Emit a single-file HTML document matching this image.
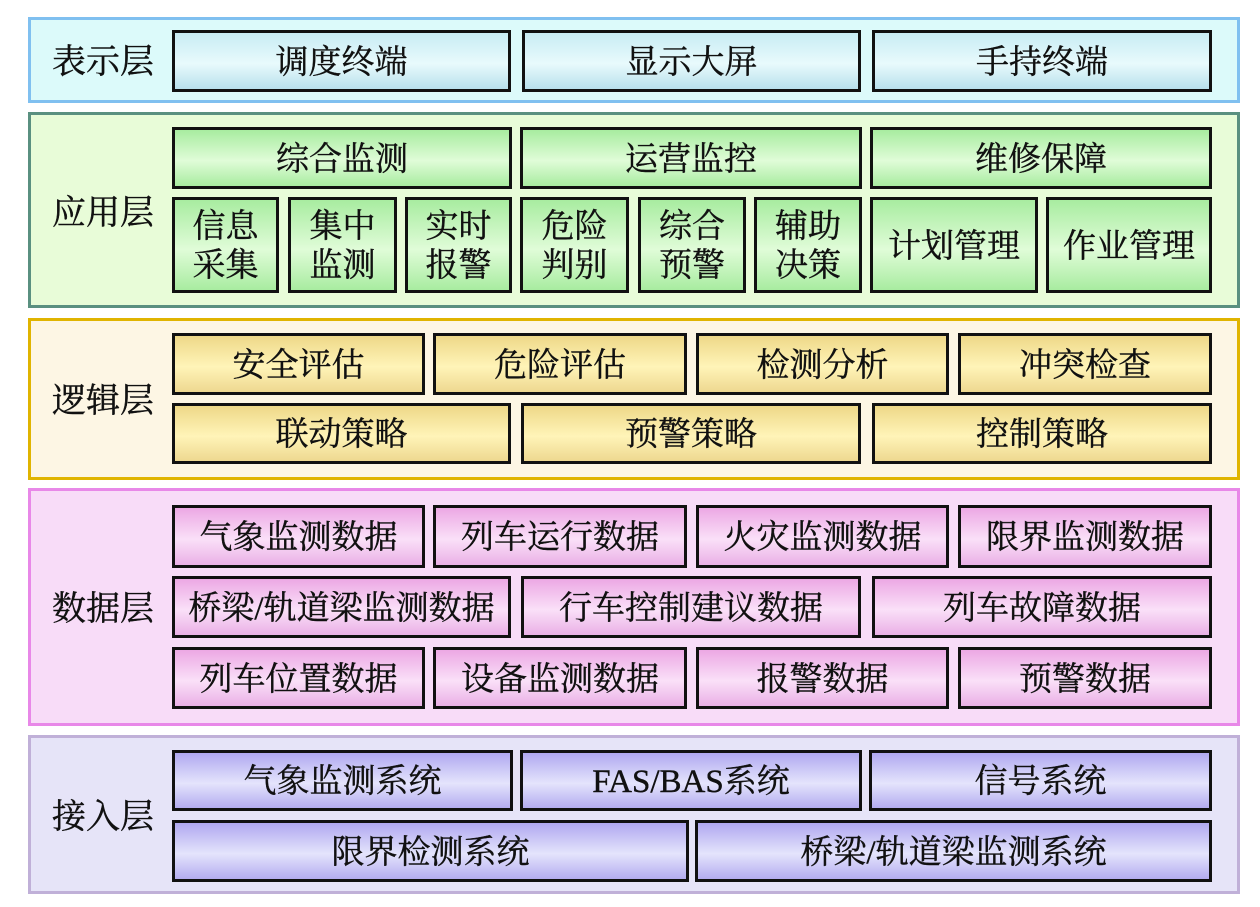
<!DOCTYPE html>
<html><head><meta charset="utf-8"><style>
body{margin:0;width:1260px;height:907px;background:#fff;position:relative;overflow:hidden;font-family:"Liberation Serif","Noto Serif CJK SC",serif;}
.L{position:absolute;left:28px;width:1212px;box-sizing:border-box;border:3px solid}
.t{position:absolute;left:52px;font-size:34px;color:#111;line-height:1;-webkit-text-stroke:0.4px #111}
.b{position:absolute;box-sizing:border-box;border:3px solid #111;padding-top:4px;display:flex;align-items:center;justify-content:center;text-align:center;font-size:33px;line-height:1.18;color:#111;-webkit-text-stroke:0.4px #111}
.bl{background:linear-gradient(#c8ecf4,#e8fafc 55%,#b8e0ec)}
.gr{background:linear-gradient(#a8eca0,#e0fcd8 55%,#a8eca0)}
.go{background:linear-gradient(#eed888,#fff4b8 55%,#eed890)}
.pk{background:linear-gradient(#eca8e4,#fae0f8 55%,#eab0e6)}
.pu{background:linear-gradient(#b0a8f0,#e4e4fc 55%,#b4acf0)}
</style></head><body>
<div class="L" style="top:17px;height:86px;border-color:#80c0f0;background:#dcfafa"></div>
<div class="t" style="top:46px">表示层</div>
<div class="b bl" style="left:172px;top:30px;width:339px;height:62px">调度终端</div>
<div class="b bl" style="left:522px;top:30px;width:339px;height:62px">显示大屏</div>
<div class="b bl" style="left:872px;top:30px;width:340px;height:62px">手持终端</div>

<div class="L" style="top:112px;height:196px;border-color:#5a9080;background:#e8fcd8"></div>
<div class="t" style="top:197px">应用层</div>
<div class="b gr" style="left:172px;top:127px;width:340px;height:62px">综合监测</div>
<div class="b gr" style="left:520px;top:127px;width:342px;height:62px">运营监控</div>
<div class="b gr" style="left:870px;top:127px;width:342px;height:62px">维修保障</div>
<div class="b gr" style="left:172px;top:197px;width:107px;height:96px">信息<br>采集</div>
<div class="b gr" style="left:288px;top:197px;width:109px;height:96px">集中<br>监测</div>
<div class="b gr" style="left:405px;top:197px;width:107px;height:96px">实时<br>报警</div>
<div class="b gr" style="left:520px;top:197px;width:109px;height:96px">危险<br>判别</div>
<div class="b gr" style="left:638px;top:197px;width:108px;height:96px">综合<br>预警</div>
<div class="b gr" style="left:754px;top:197px;width:108px;height:96px">辅助<br>决策</div>
<div class="b gr" style="left:870px;top:197px;width:168px;height:96px">计划管理</div>
<div class="b gr" style="left:1046px;top:197px;width:166px;height:96px">作业管理</div>

<div class="L" style="top:318px;height:162px;border-color:#e0b400;background:#fdf6e4"></div>
<div class="t" style="top:385px">逻辑层</div>
<div class="b go" style="left:172px;top:333px;width:253px;height:62px">安全评估</div>
<div class="b go" style="left:433px;top:333px;width:254px;height:62px">危险评估</div>
<div class="b go" style="left:696px;top:333px;width:253px;height:62px">检测分析</div>
<div class="b go" style="left:958px;top:333px;width:254px;height:62px">冲突检查</div>
<div class="b go" style="left:172px;top:403px;width:339px;height:61px">联动策略</div>
<div class="b go" style="left:521px;top:403px;width:340px;height:61px">预警策略</div>
<div class="b go" style="left:872px;top:403px;width:340px;height:61px">控制策略</div>

<div class="L" style="top:488px;height:238px;border-color:#e888e8;background:#f8dcf8"></div>
<div class="t" style="top:593px">数据层</div>
<div class="b pk" style="left:172px;top:505px;width:253px;height:63px">气象监测数据</div>
<div class="b pk" style="left:433px;top:505px;width:254px;height:63px">列车运行数据</div>
<div class="b pk" style="left:696px;top:505px;width:253px;height:63px">火灾监测数据</div>
<div class="b pk" style="left:958px;top:505px;width:254px;height:63px">限界监测数据</div>
<div class="b pk" style="left:172px;top:576px;width:339px;height:62px">桥梁/轨道梁监测数据</div>
<div class="b pk" style="left:521px;top:576px;width:340px;height:62px">行车控制建议数据</div>
<div class="b pk" style="left:872px;top:576px;width:340px;height:62px">列车故障数据</div>
<div class="b pk" style="left:172px;top:647px;width:253px;height:62px">列车位置数据</div>
<div class="b pk" style="left:433px;top:647px;width:254px;height:62px">设备监测数据</div>
<div class="b pk" style="left:696px;top:647px;width:253px;height:62px">报警数据</div>
<div class="b pk" style="left:958px;top:647px;width:254px;height:62px">预警数据</div>

<div class="L" style="top:735px;height:159px;border-color:#c0b0d8;background:#e6e4f8"></div>
<div class="t" style="top:801px">接入层</div>
<div class="b pu" style="left:172px;top:750px;width:341px;height:61px">气象监测系统</div>
<div class="b pu" style="left:520px;top:750px;width:342px;height:61px">FAS/BAS系统</div>
<div class="b pu" style="left:869px;top:750px;width:343px;height:61px">信号系统</div>
<div class="b pu" style="left:172px;top:820px;width:517px;height:62px">限界检测系统</div>
<div class="b pu" style="left:695px;top:820px;width:517px;height:62px">桥梁/轨道梁监测系统</div>
</body></html>
